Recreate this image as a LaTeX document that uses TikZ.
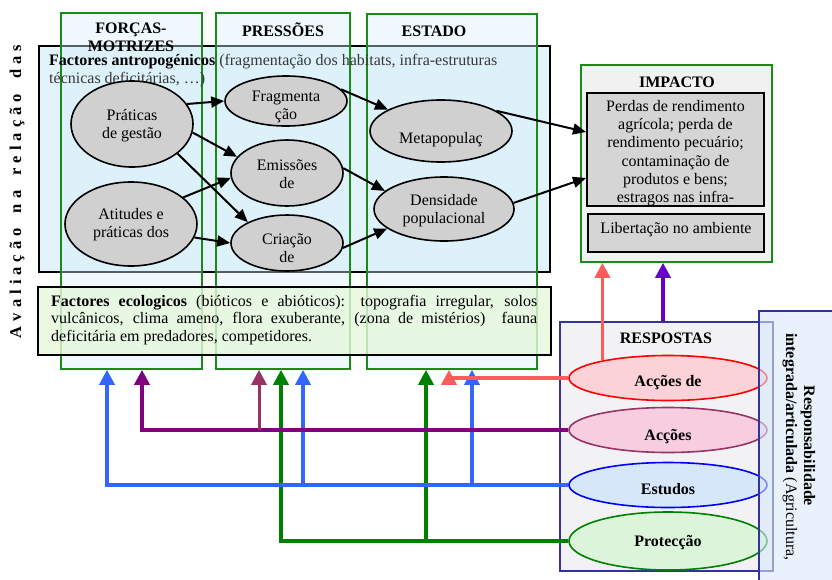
\documentclass[tikz,border=0pt]{standalone}
\usepackage{fontspec}
\setmainfont{Liberation Serif}
\usetikzlibrary{shapes.geometric,arrows.meta,calc}
\definecolor{colgreen}{HTML}{1A8A1A}
\definecolor{colfill}{HTML}{D6EEFA}
\definecolor{antfill}{HTML}{E3F3FB}
\definecolor{ecofill}{HTML}{E6F8DC}
\definecolor{ellgray}{HTML}{D0D0D0}
\definecolor{impout}{HTML}{F1F1F1}
\definecolor{impin}{HTML}{D5D5D5}
\definecolor{respfill}{HTML}{F2F2F4}
\definecolor{respdraw}{HTML}{333399}
\definecolor{resp2fill}{HTML}{D8E8FA}
\definecolor{redd}{HTML}{FF0000}
\definecolor{redf}{HTML}{FAD2D8}
\definecolor{mauve}{HTML}{993366}
\definecolor{pinkf}{HTML}{F7CEE0}
\definecolor{blued}{HTML}{0000FF}
\definecolor{bluef}{HTML}{D6E7FA}
\definecolor{greend}{HTML}{008000}
\definecolor{greenf}{HTML}{DCF5DA}
\definecolor{redline}{HTML}{FF5B5B}
\definecolor{purpline}{HTML}{800080}
\definecolor{blueline}{HTML}{3366FF}
\definecolor{violet}{HTML}{6600CC}
\definecolor{txtgray}{HTML}{383838}
\tikzset{
  colbox/.style={rectangle, draw=colgreen, line width=1.6pt, fill=colfill, fill opacity=0.4, inner sep=0},
  bigbox/.style={rectangle, draw=black, line width=2pt, inner sep=0},
  ell/.style={ellipse, draw=black, line width=1.6pt, fill=ellgray, inner sep=0},
  rell/.style={ellipse, line width=1.6pt, inner sep=0, minimum width=198pt},
  lbl/.style={align=center, inner sep=0, font=\fontsize{16}{18}\selectfont},
  hdr/.style={align=center, inner sep=0, font=\fontsize{16}{18}\selectfont\bfseries},
  blk/.style={line width=2pt, -{Triangle[length=13pt,width=11pt]}},
  conn/.style={line width=3.6pt, -{Triangle[length=15pt,width=15pt]}},
}
\begin{document}
\begin{tikzpicture}[x=1pt,y=-1pt]
\useasboundingbox (0,0) rectangle (832,579);
% left vertical title
\node[rotate=90, inner sep=0, font=\fontsize{16.5}{18}\selectfont\bfseries] (avt) at (17,191.5)
  {\makebox[293pt][s]{A\hfill v\hfill a\hfill l\hfill i\hfill a\hfill ç\hfill ã\hfill o\hfill\hfill\hfill n\hfill a\hfill\hfill\hfill r\hfill e\hfill l\hfill a\hfill ç\hfill ã\hfill o\hfill\hfill\hfill d\hfill a\hfill s}};
% anthropogenic box
\node[bigbox, fill=antfill, minimum width=511pt, minimum height=226pt] (ant) at (294.5,159) {};
% columns
\node[colbox, minimum width=141pt, minimum height=356pt] (col1) at (131.5,191) {};
\node[colbox, minimum width=134pt, minimum height=356pt] (col2) at (283,191) {};
\node[colbox, minimum width=170pt, minimum height=355pt] (col3) at (452,191.5) {};
\node[anchor=north west, inner sep=0, align=left, font=\fontsize{16}{18}\selectfont] (antt) at (49,54)
  {\textbf{Factores antropogénicos} \textcolor{txtgray}{(fragmentação dos habitats, infra-estruturas}\\\textcolor{txtgray}{técnicas deficitárias, …)}};
\node[hdr] (h1) at (131,37) {FORÇAS-\\MOTRIZES};
\node[hdr] (h2) at (283,30) {PRESSÕES};
\node[hdr] (h3) at (434,31) {ESTADO};
% ecological box
\node[bigbox, fill=ecofill, fill opacity=0.8, minimum width=513pt, minimum height=68pt] (eco) at (294.5,321) {};
\node[anchor=north west, inner sep=0, text width=486pt, align=justify, font=\fontsize{16}{17.5}\selectfont] (ecot) at (51,295)
  {\textbf{Factores ecologicos} (bióticos e abióticos): topografia irregular, solos\linebreak vulcânicos, clima ameno, flora exuberante, (zona de mistérios)\ \ fauna\linebreak deficitária em predadores, competidores.};
% ellipses
\node[ell, minimum width=122pt, minimum height=86pt] (prat) at (132,124) {};
\node[ell, minimum width=132pt, minimum height=84pt] (atit) at (131,224) {};
\node[ell, minimum width=122pt, minimum height=50pt] (frag) at (286,101) {};
\node[ell, minimum width=112pt, minimum height=66pt] (emis) at (287,173) {};
\node[ell, minimum width=112pt, minimum height=56pt] (crea) at (287,243) {};
\node[ell, minimum width=142pt, minimum height=62pt] (meta) at (441,131) {};
\node[ell, minimum width=140pt, minimum height=64pt] (dens) at (444,209) {};
\node[lbl] (pratt) at (132,126) {Práticas\\de gestão};
\node[lbl] (atitt) at (131,225) {Atitudes e\\práticas dos};
\node[lbl] (fragt) at (286,107) {Fragmenta\\ção};
\node[lbl] (emist) at (287,174) {Emissões\\de};
\node[lbl] (creat) at (287,248) {Criação\\de};
\node[lbl] (metat) at (441,140) {Metapopulaç};
\node[lbl] (denst) at (444,211) {Densidade\\populacional};
% impact box
\node[rectangle, draw=colgreen, line width=1.6pt, fill=impout, minimum width=191pt, minimum height=197pt, inner sep=0] (imp) at (676.5,163.5) {};
\node[hdr] (impt) at (677,82) {IMPACTO};
\node[bigbox, fill=impin, minimum width=177pt, minimum height=113pt] (imp1) at (675.5,149.5) {};
\node[bigbox, fill=impin, minimum width=176pt, minimum height=38pt] (imp2) at (676,233) {};
\begin{scope}
  \clip ([xshift=1.5pt,yshift=-1.5pt]imp1.north west) rectangle ([xshift=-1.5pt,yshift=1.5pt]imp1.south east);
  \node[lbl, anchor=north, font=\fontsize{16}{18.3}\selectfont] (imp1t) at ($(imp1.north)+(0,8)$)
    {Perdas de rendimento\\agrícola; perda de\\rendimento pecuário;\\contaminação de\\produtos e bens;\\estragos nas infra-};
\end{scope}
\node[lbl] (imp2t) at (676,230) {Libertação no ambiente};
% black arrows
\draw[blk] (prat.20) -- (frag.180);
\draw[blk] (prat.-8) -- (emis.162);
\draw[blk] (prat.-33) -- (crea.152);
\draw[blk] (atit.27) -- (emis.185);
\draw[blk] (atit.-12) -- (crea.180);
\draw[blk] (frag.12) -- (meta.158);
\draw[blk] (emis.5) -- (dens.163);
\draw[blk] (crea.-5) -- (dens.199);
\draw[blk] (meta.20) -- ([yshift=17.5pt]imp1.west);
\draw[blk] (dens.5) -- ([yshift=-28.5pt]imp1.west);
% responses
\node[rectangle, draw=respdraw, line width=1.6pt, fill=respfill, minimum width=213pt, minimum height=249pt, inner sep=0] (resp) at (666.5,446.5) {};
\node[hdr] (respt) at (666,338) {RESPOSTAS};
\node[rell, draw=redd, fill=redf, minimum height=45pt] (acc1) at (668,378) {};
\node[rell, draw=mauve, fill=pinkf, minimum height=45pt] (acc2) at (668,430) {};
\node[rell, draw=blued, fill=bluef, minimum height=45pt] (est) at (668,485) {};
\node[rell, draw=greend, fill=greenf, minimum height=58pt] (prot) at (668,541) {};
\node[hdr] (acc1t) at (668,383) {Acções de};
\node[hdr] (acc2t) at (668,437) {Acções};
\node[hdr] (estt) at (668,489) {Estudos};
\node[hdr] (prott) at (668,543) {Protecção};
\node[rectangle, draw=respdraw, line width=1.6pt, fill=resp2fill, fill opacity=0.6, minimum width=90pt, minimum height=290pt, inner sep=0, anchor=north west] (resb) at (758,310) {};
\node[rotate=-90, inner sep=0, font=\fontsize{16}{18}\selectfont\bfseries] (resbt1) at (808,446) {Responsabilidade};
\node[rotate=-90, inner sep=0, font=\fontsize{16}{18}\selectfont] (resbt2) at (790,447) {\textbf{integrada/articulada} (Agricultura,};
% targets
\coordinate (b1) at ([xshift=-24.5pt]col1.south);
\coordinate (p1) at ([xshift=10.5pt]col1.south);
\coordinate (m1) at ([xshift=-24pt]col2.south);
\coordinate (g1) at ([xshift=-2pt]col2.south);
\coordinate (b2) at ([xshift=20pt]col2.south);
\coordinate (g2) at ([xshift=-26pt]col3.south);
\coordinate (r1) at ([xshift=-3pt]col3.south);
\coordinate (b3) at ([xshift=20pt]col3.south);
\coordinate (v0) at ([xshift=-3.5pt]resp.north);
% coloured connectors
\draw[conn, draw=greend] (prot.west) -| (g1);
\draw[conn, draw=greend] (prot.west -| g2) -- (g2);
\draw[conn, draw=blueline] (est.west) -| (b1);
\draw[conn, draw=blueline] (est.west -| b2) -- (b2);
\draw[conn, draw=blueline] (est.west -| b3) -- (b3);
\draw[conn, draw=purpline] (acc2.west) -| (p1);
\draw[conn, line width=3pt, draw=mauve] (acc2.west -| m1) -- (m1);
\draw[conn, draw=redline] (acc1.west) -| (r1);
\draw[conn, draw=redline] (acc1.165) -- (acc1.165 |- imp.south);
\draw[conn, draw=violet] (v0) -- (v0 |- imp.south);
\end{tikzpicture}
\end{document}
